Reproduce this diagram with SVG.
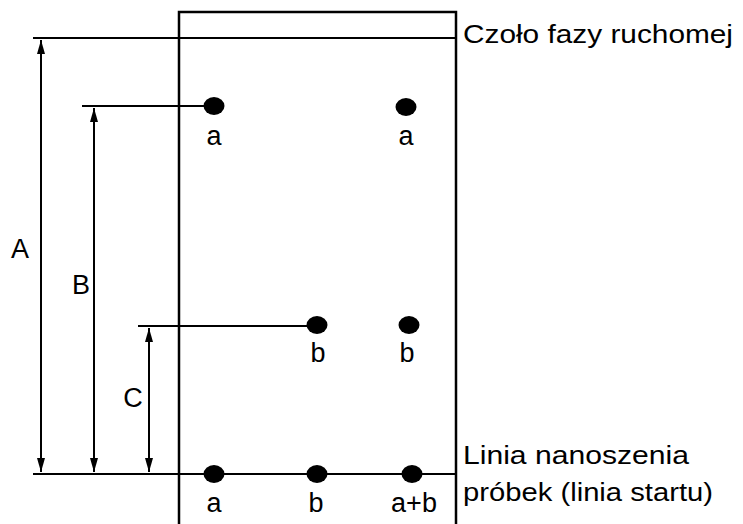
<svg xmlns="http://www.w3.org/2000/svg" width="743" height="524" viewBox="0 0 743 524">
<style>
.ln{stroke:#000;stroke-width:2.2;fill:none}
.fr{stroke:#000;stroke-width:2.5;fill:none}
.dim{stroke:#000;stroke-width:2;fill:none;marker-start:url(#ah);marker-end:url(#ah)}
.dot{fill:#000}
text{font-family:"Liberation Sans",Arial,sans-serif;fill:#000}
.lbl{font-size:27px;text-anchor:middle}
.big{font-size:25px}
</style>
<defs>
<marker id="ah" viewBox="0 0 14 10" refX="14" refY="5" markerWidth="14" markerHeight="10" markerUnits="userSpaceOnUse" orient="auto-start-reverse">
<path d="M0,1 L14,5 L0,9 z" fill="#000"/>
</marker>
</defs>
<g id="plate">
<path class="fr" d="M179,524 V12 H456 V524"/>
</g>
<g id="connectors">
<line class="ln" x1="33" y1="38" x2="456" y2="38"/>
<line class="ln" x1="33" y1="474" x2="456" y2="474"/>
<line class="ln" x1="82" y1="106" x2="205" y2="106"/>
<line class="ln" x1="138" y1="326" x2="308" y2="326"/>
<line class="dim" x1="41" y1="40" x2="41" y2="472"/>
<line class="dim" x1="94" y1="108" x2="94" y2="472"/>
<line class="dim" x1="149" y1="328" x2="149" y2="472"/>
</g>
<g id="dim-labels">
<text class="lbl" x="20" y="258">A</text>
<text class="lbl" x="81" y="294">B</text>
<text class="lbl" x="133" y="407">C</text>
</g>
<g id="spot-a1"><ellipse class="dot" cx="214" cy="106" rx="10.5" ry="9"/><text class="lbl" x="214" y="145">a</text></g>
<g id="spot-a2"><ellipse class="dot" cx="406" cy="107" rx="10.5" ry="9"/><text class="lbl" x="406" y="145">a</text></g>
<g id="spot-b1"><ellipse class="dot" cx="317" cy="325" rx="10.5" ry="9"/><text class="lbl" x="318" y="362">b</text></g>
<g id="spot-b2"><ellipse class="dot" cx="409" cy="325" rx="10.5" ry="9"/><text class="lbl" x="407" y="362">b</text></g>
<g id="start-a"><ellipse class="dot" cx="214" cy="474" rx="10.5" ry="9"/><text class="lbl" x="214" y="512">a</text></g>
<g id="start-b"><ellipse class="dot" cx="317" cy="474" rx="10.5" ry="9"/><text class="lbl" x="316" y="512">b</text></g>
<g id="start-ab"><ellipse class="dot" cx="412" cy="474" rx="10.5" ry="9"/><text class="lbl" x="414" y="512">a+b</text></g>
<g id="front-label"><text class="big" x="463" y="43" textLength="270" lengthAdjust="spacingAndGlyphs">Czoło fazy ruchomej</text></g>
<g id="start-label">
<text class="big" x="463" y="464" textLength="226" lengthAdjust="spacingAndGlyphs">Linia nanoszenia</text>
<text class="big" x="463" y="501" textLength="250" lengthAdjust="spacingAndGlyphs">próbek (linia startu)</text>
</g>
</svg>
